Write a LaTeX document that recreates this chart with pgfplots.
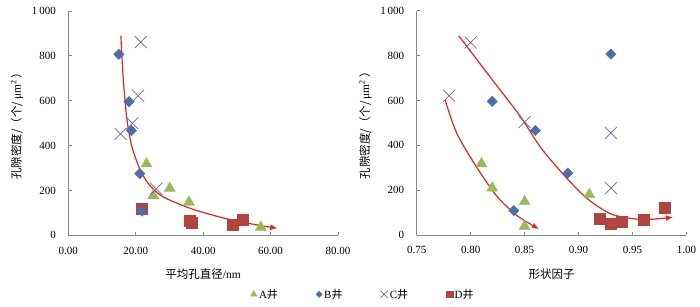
\documentclass[border=0pt]{standalone}
\usepackage{fontspec}
\setmainfont{Liberation Serif}
\newfontfamily\cjk{Noto Sans CJK SC}
\usepackage{pgfplots}
\pgfplotsset{compat=1.18}
\usetikzlibrary{arrows.meta}
\definecolor{cA}{HTML}{9BBB59}
\definecolor{cB}{HTML}{4A6EA6}
\definecolor{cC}{HTML}{7D5F9C}
\definecolor{cD}{HTML}{B0443F}
\definecolor{trend}{HTML}{E8231E}
\definecolor{axgray}{HTML}{868686}
\pgfplotsset{
  base/.style={scale only axis, width=269.7pt, height=224.3pt, anchor=south west,
    axis x line*=bottom, axis y line*=left,
    axis line style={draw=axgray, line width=0.8pt},
    tick align=inside, major tick length=3.5pt,
    tick style={draw=axgray, line width=0.8pt},
    /pgf/number format/assume math mode=true,
    ymin=0, ymax=1000, ytick={0,200,400,600,800,1000},
    yticklabels={0,200,400,600,800,1\,000},
    ticklabel style={font=\fontsize{11}{13}\selectfont},
    yticklabel style={xshift=-9pt},
    xticklabel style={yshift=-8pt},
    label style={font=\fontsize{11.5}{13}\selectfont},
    xlabel style={yshift=-8pt},
    ylabel style={yshift=2pt},
    ylabel={{\cjk 孔隙密度/（个/}\,μm\textsuperscript{2}\,{\cjk ）}},
    clip=false,
    legend image code/.code={\draw[##1, every mark/.append style={scale=0.6}] plot coordinates {(4pt,0pt)};},
  },
  mA/.style={only marks, mark=triangle*, mark size=6.3pt, mark options={fill=cA, draw=cA}},
  mB/.style={only marks, mark=diamond*, mark size=5.2pt, mark options={xscale=1.33, fill=cB, draw=cB}},
  mC/.style={only marks, mark=x, mark size=8.5pt, mark options={draw=cC, line width=0.7pt}},
  mD/.style={only marks, mark=square*, mark size=5.5pt, mark options={fill=cD, draw=cD}},
  tr/.style={trend, line width=1.2pt, smooth, -{Latex[length=7pt,width=6pt]}},
}
\begin{document}
\begin{tikzpicture}
\path[use as bounding box] (0,0) rectangle (700pt,306pt);
\begin{axis}[base, at={(68.3pt,70.7pt)},
  xmin=0, xmax=80, xtick={0,20,40,60,80},
  xticklabels={0.00,20.00,40.00,60.00,80.00},
  xlabel={{\cjk 平均孔直径}/nm},
  legend columns=4,
  legend style={draw=none, fill=none, at={(1.093,-0.263)}, anchor=center,
    font=\fontsize{11}{13}\selectfont,
    /tikz/every even column/.append style={column sep=36pt}},
]
\addplot[mD, forget plot] coordinates {(21.9,120)(36.0,63)(36.5,54)(48.8,46)(51.7,70)};
\addplot[mA] coordinates {(23.2,319)(30.1,210)(25.2,177)(35.8,148)(57.1,36)};
\addlegendentry{A{\cjk 井}}
\addplot[mB] coordinates {(15.0,807)(18.0,596)(18.7,467)(21.2,275)(21.9,108)};
\addlegendentry{B{\cjk 井}}
\addplot[mC] coordinates {(21.5,861)(20.7,622)(19.0,500)(15.5,452)(26.1,207)};
\addlegendentry{C{\cjk 井}}
\addlegendimage{mD}
\addlegendentry{D{\cjk 井}}
\addplot[tr] coordinates {(15.6,890)(16.2,720)(16.8,606)(17.5,505)(18.8,400)(21.2,295)(24.1,224)(28.1,172)(36,121)(43.8,86)(51.7,58)(62,31)};
\end{axis}
\begin{axis}[base, at={(416.7pt,71pt)},
  xmin=0.75, xmax=1.0, xtick={0.75,0.8,0.85,0.9,0.95,1},
  xticklabels={0.75,0.80,0.85,0.90,0.95,1.00},
  xlabel={\cjk 形状因子},
]
\addplot[mD] coordinates {(0.98,121)(0.92,72)(0.93,49)(0.94,60)(0.96,69)};
\addplot[mA] coordinates {(0.81,318)(0.82,210)(0.91,181)(0.85,149)(0.85,39)};
\addplot[mB] coordinates {(0.93,807)(0.82,596)(0.86,466)(0.89,276)(0.84,109)};
\addplot[mC] coordinates {(0.80,858)(0.78,621)(0.85,504)(0.93,455)(0.93,209)};
\addplot[tr] coordinates {(0.789,888)(0.818,705)(0.8463,527)(0.8649,390)(0.8882,258)(0.9084,161)(0.930,94)(0.9518,72)(0.9674,70)(0.9876,79)};
\addplot[tr] coordinates {(0.7764,601)(0.7873,452)(0.8059,300)(0.8245,172)(0.8432,86)(0.8633,27)};
\end{axis}
\end{tikzpicture}
\end{document}
